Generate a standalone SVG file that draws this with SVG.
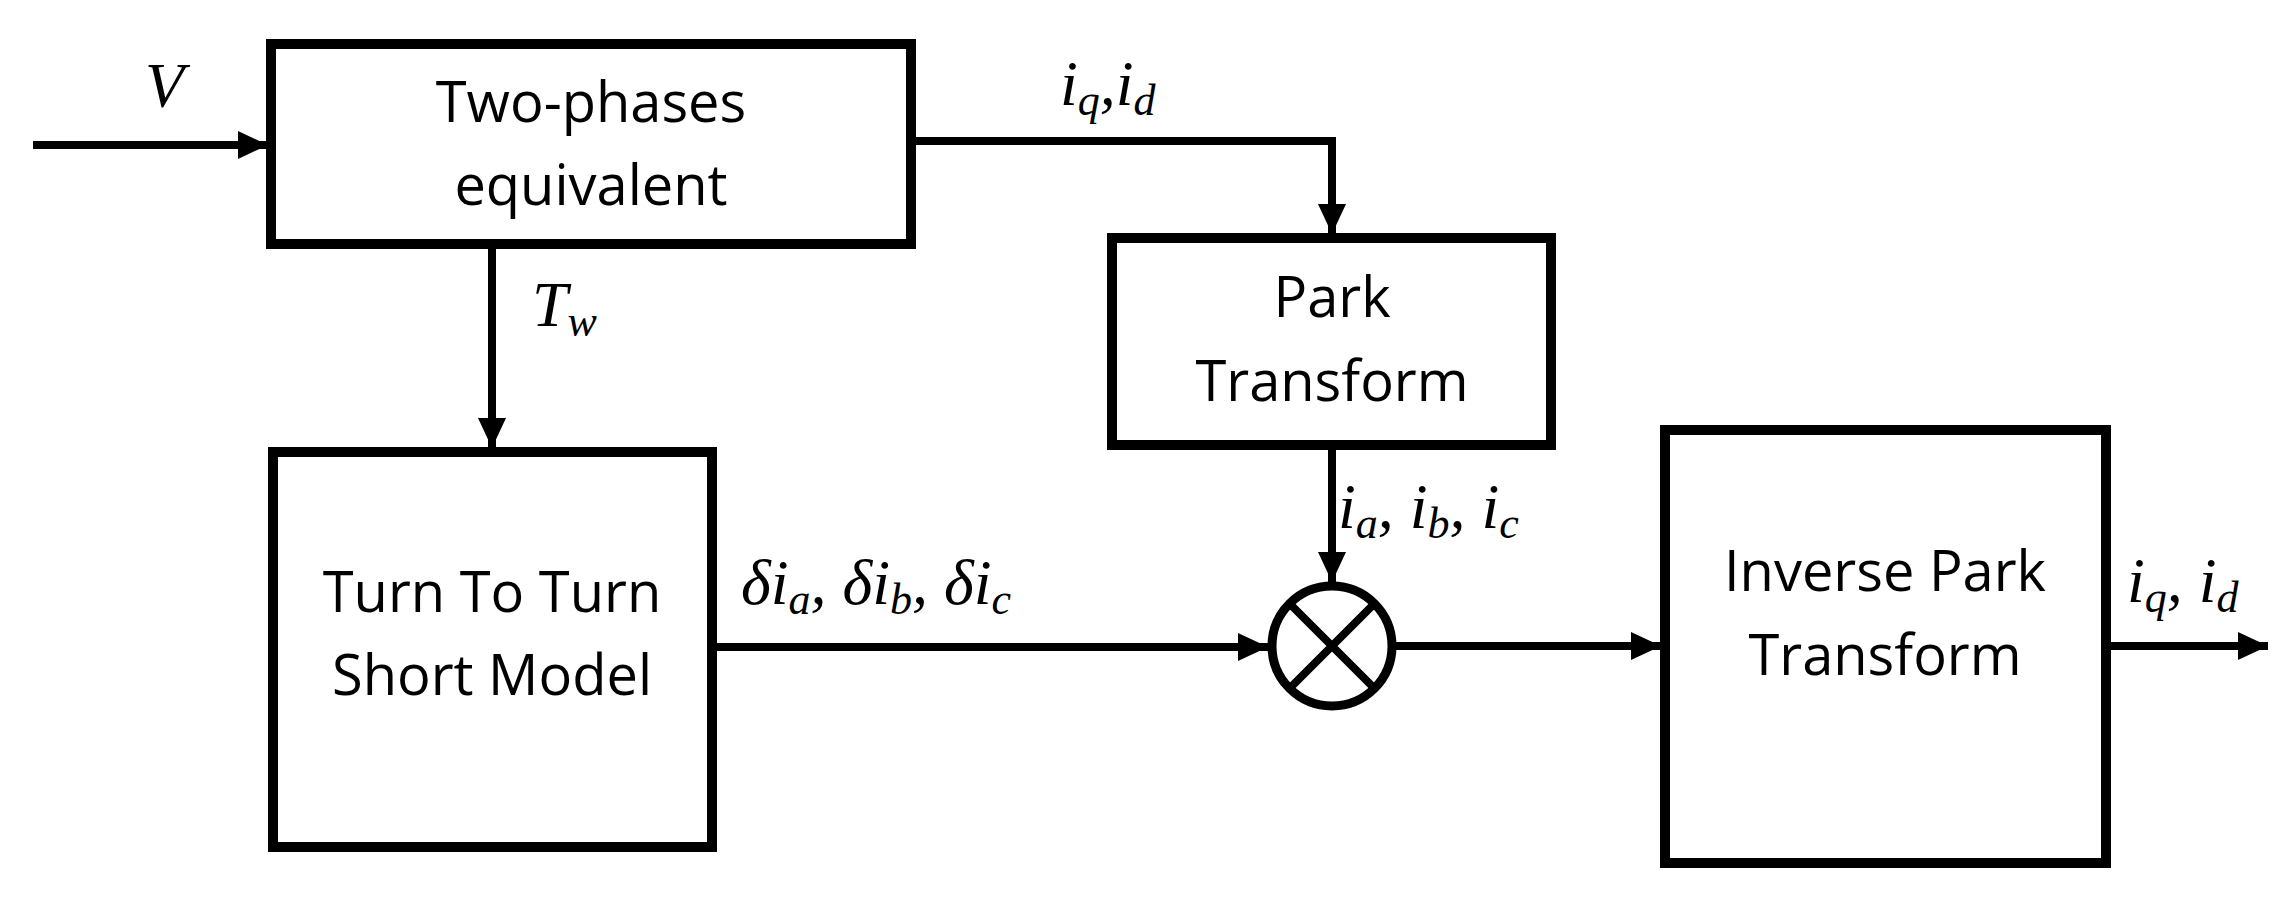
<svg xmlns="http://www.w3.org/2000/svg" width="2290" height="905" viewBox="0 0 2290 905">
<style>
.box{fill:#fff;stroke:#000;stroke-width:10}
.t{font-family:"Open Sans","Noto Sans",sans-serif;font-size:56px;text-anchor:middle;fill:#000}
.m{font-family:"Liberation Serif",serif;font-style:italic;font-size:64px;fill:#000}
.s{font-size:44px}
.c{fill:none;stroke:#000;stroke-width:8}
</style>
<defs>
<marker id="ah" markerUnits="userSpaceOnUse" markerWidth="30" markerHeight="28" refX="30" refY="14" orient="auto"><path d="M0,0L30,14L0,28z"/></marker>
</defs>
<g id="connectors">
<path class="c" d="M33,145H268" marker-end="url(#ah)"/>
<path class="c" d="M916,141H1332V234" marker-end="url(#ah)"/>
<path class="c" d="M492,249V448" marker-end="url(#ah)"/>
<path class="c" d="M712,647H1268" marker-end="url(#ah)"/>
<path class="c" d="M1332,445V582" marker-end="url(#ah)"/>
<path class="c" d="M1394,646H1661" marker-end="url(#ah)"/>
<path class="c" d="M2106,646H2268" marker-end="url(#ah)"/>
</g>
<g id="two-phases">
<rect class="box" x="271" y="44" width="640" height="200"/>
<text class="t" x="591" y="122">Two-phases</text>
<text class="t" x="591" y="205">equivalent</text>
</g>
<g id="turn">
<rect class="box" x="273" y="452" width="439" height="395"/>
<text class="t" x="492" y="612">Turn To Turn</text>
<text class="t" x="492" y="695">Short Model</text>
</g>
<g id="park">
<rect class="box" x="1112" y="238" width="439" height="207"/>
<text class="t" x="1332" y="317">Park</text>
<text class="t" x="1332" y="401">Transform</text>
</g>
<g id="mult">
<circle cx="1332" cy="646" r="60" fill="#fff" stroke="#000" stroke-width="9"/>
<path d="M1290,604L1374,688M1374,604L1290,688" stroke="#000" stroke-width="8"/>
</g>
<g id="inverse">
<rect class="box" x="1665" y="430" width="441" height="433"/>
<text class="t" x="1885" y="591">Inverse Park</text>
<text class="t" x="1885" y="675">Transform</text>
</g>
<g id="labels">
<text class="m" x="145" y="107">V</text>
<text class="m" x="1060" y="105">i<tspan class="s" dy="10">q</tspan><tspan dy="-10">,i</tspan><tspan class="s" dy="10">d</tspan></text>
<text class="m" x="532" y="326">T<tspan class="s" dy="10">w</tspan></text>
<text class="m" x="741" y="604">δi<tspan class="s" dy="10">a</tspan><tspan dy="-10">, δi</tspan><tspan class="s" dy="10">b</tspan><tspan dy="-10">, δi</tspan><tspan class="s" dy="10">c</tspan></text>
<text class="m" x="1338" y="528">i<tspan class="s" dy="10">a</tspan><tspan dy="-10">, i</tspan><tspan class="s" dy="10">b</tspan><tspan dy="-10">, i</tspan><tspan class="s" dy="10">c</tspan></text>
<text class="m" x="2127" y="602">i<tspan class="s" dy="10">q</tspan><tspan dy="-10">, i</tspan><tspan class="s" dy="10">d</tspan></text>
</g>
</svg>
